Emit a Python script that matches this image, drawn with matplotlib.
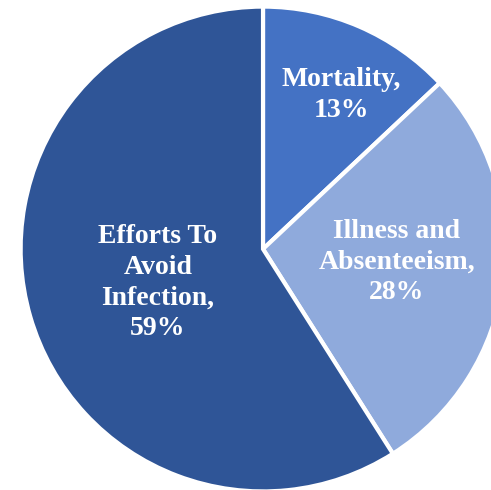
import numpy as np
import matplotlib
matplotlib.use("Agg")
import matplotlib.pyplot as plt

# share of costs by category, drawn clockwise from 12 o'clock
categories = ["Mortality", "Illness and\nAbsenteeism", "Efforts To\nAvoid\nInfection"]
shares = [13, 28, 59]
colors = ["#4472C4", "#8FAADC", "#2F5597"]
# label placement: distance from centre and nudge off the wedge's mid-angle
label_dist = [0.72, 0.56, 0.46]
label_shift = [-3.5, 1.7, 1.6]

fig = plt.figure(figsize=(4.91, 4.90), dpi=100)
ax = fig.add_axes([0, 0, 1, 1])

wedges, _ = ax.pie(shares, colors=colors, startangle=90, counterclock=False,
                   radius=1.01, wedgeprops=dict(edgecolor="white", linewidth=3))

for w, name, val, d, s in zip(wedges, categories, shares, label_dist, label_shift):
    mid = np.deg2rad((w.theta1 + w.theta2) / 2 + s)
    ax.text(d * np.cos(mid), d * np.sin(mid), f"{name},\n{val}%",
            ha="center", va="center", color="white", fontsize=20,
            fontweight="bold", family="Liberation Serif", linespacing=1.3)

ax.set_xlim(-1.096, 0.95)
ax.set_ylim(-1.004, 1.0375)
ax.set_aspect("auto")
ax.axis("off")

fig.savefig("out.png", dpi=100)
